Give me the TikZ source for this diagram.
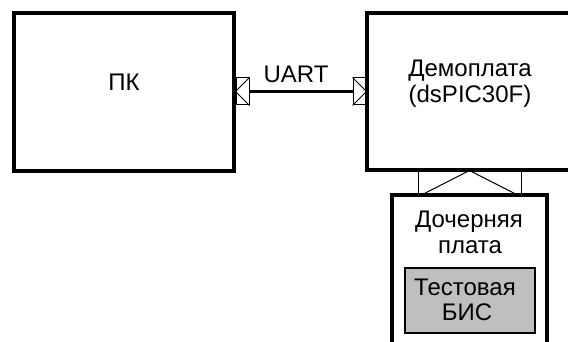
\documentclass[tikz,border=0pt]{standalone}
\usepackage{fontspec}
\setmainfont{Liberation Sans}
\usepackage{xcolor}
\usepackage{tikz}

\tikzset{
  block/.style={draw, line width=4pt, inner sep=0pt},
  socket/.style={draw, line width=1pt, fill=white, inner sep=0pt},
  label/.style={font=\fontsize{24}{25}\selectfont, inner sep=0pt, anchor=base},
}

\begin{document}
\begin{tikzpicture}[x=1pt,y=-1pt]
\clip (0,0) rectangle (568,342);
\fill[white] (0,0) rectangle (568,342);
\node[socket, minimum width=13pt, minimum height=27pt] (lsock) at (242.5,91.5) {};
\node[socket, minimum width=13pt, minimum height=27pt] (rsock) at (359.5,91.5) {};
\node[socket, minimum width=103pt, minimum height=24pt] (bsock) at (469.5,183) {};
\draw[line width=1pt] (lsock.north east) -- (lsock.west) -- (lsock.south east);
\draw[line width=1pt] (rsock.north west) -- (rsock.east) -- (rsock.south west);
\draw[line width=1pt] ([xshift=3pt]bsock.south west) -- (bsock.north) -- ([xshift=-3pt]bsock.south east);
\node[block, minimum width=220pt, minimum height=158pt] (pc) at (124,92) {};
\node[block, minimum width=233pt, minimum height=157pt] (demo) at (483.5,91.5) {};
\node[block, minimum width=155pt, minimum height=175pt] (daughter) at (469.5,282.5) {};
\node[draw, line width=1.5pt, fill=black!25, minimum width=130pt, minimum height=65pt] (chip) at (470,300.5) {};
\draw[line width=3pt] (lsock.east) -- (rsock.west);
\node[label] (pclabel) at (124,91) {ПК};
\node[label] (uart) at (296,83) {UART};
\node[label] (demolabel) at (470,77) {Демоплата};
\node[label] (demochip) at (470,103) {(dsPIC30F)};
\node[label] (dlabel) at (469,228) {Дочерняя};
\node[label] (dlabel2) at (470,253) {плата};
\node[label] (chiplabel) at (465,295) {Тестовая};
\node[label] (chiplabel2) at (467,320) {БИС};
\end{tikzpicture}
\end{document}
